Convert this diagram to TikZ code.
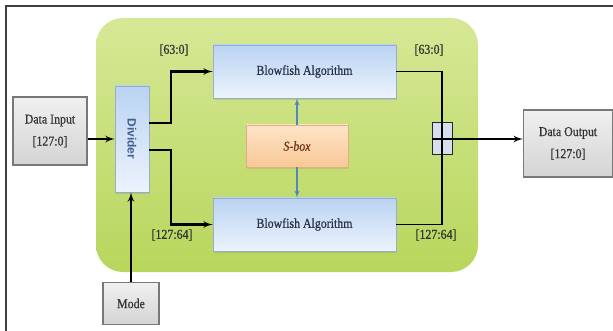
\documentclass[tikz,border=0pt]{standalone}
\usepackage{fontspec}
\setmainfont{Liberation Serif}[FakeStretch=0.88,FakeBold=0.6]
\setsansfont{Liberation Sans}
\usepackage{tikz}
\usetikzlibrary{arrows}
\usetikzlibrary{shapes}
\usetikzlibrary{shadows}

\definecolor{panelhi}{RGB}{214,232,150}
\definecolor{panello}{RGB}{184,214,92}
\definecolor{bluehi}{RGB}{186,211,242}
\definecolor{bluelo}{RGB}{236,243,252}
\definecolor{blueedge}{RGB}{150,175,205}
\definecolor{orangehi}{RGB}{253,228,200}
\definecolor{orangelo}{RGB}{249,200,150}
\definecolor{orangeedge}{RGB}{225,175,125}
\definecolor{grayhi}{RGB}{240,240,240}
\definecolor{graylo}{RGB}{212,212,212}
\definecolor{grayedge}{RGB}{120,120,120}
\definecolor{linkblue}{RGB}{85,135,180}
\definecolor{boxtext}{RGB}{40,48,75}
\definecolor{sboxtext}{RGB}{115,50,30}
\definecolor{divtext}{RGB}{65,95,145}
\definecolor{mergefill}{RGB}{215,222,238}

\begin{document}
\begin{tikzpicture}[x=1pt,y=-1pt,
  txt/.style={font=\fontsize{13.5}{22}\selectfont,text=black!80},
  graybox/.style={txt,draw=grayedge,line width=1.2pt,top color=grayhi,bottom color=graylo,align=center,inner sep=0pt},
  bluebox/.style={txt,draw=blueedge,line width=.6pt,top color=bluehi,bottom color=bluelo,text=boxtext,inner sep=0pt,
    drop shadow={shadow xshift=1pt,shadow yshift=-2pt,opacity=.25}},
  sboxbox/.style={txt,draw=orangeedge,line width=.6pt,top color=orangehi,bottom color=orangelo,text=sboxtext,inner sep=0pt,
    font=\fontsize{13.5}{15}\selectfont\itshape,drop shadow={shadow xshift=1pt,shadow yshift=-2pt,opacity=.2}},
  lbl/.style={txt,text=black!80},
  arr/.style={line width=2.2pt,-latex'},
  wire/.style={line width=1.6pt},
  link/.style={draw=linkblue,line width=1.4pt,-latex'}]
 \useasboundingbox (0,0) rectangle (613,331);
 \fill[white] (0,0) rectangle (613,331);
 \draw[line width=1.6pt,black!75] (6,345) -- (6,6) -- (625,6);

 % green core
 \node[rounded corners=27pt,top color=panelhi,bottom color=panello,minimum width=382pt,minimum height=254pt,inner sep=0pt] (core) at (287,145) {};

 % boxes
 \node[graybox,minimum width=74pt,minimum height=68pt] (din) at (50,131) {Data Input\\{}[127:0]};
 \node[graybox,minimum width=89pt,minimum height=67pt] (dout) at (568,143.5) {Data Output\\{}[127:0]};
 \node[graybox,minimum width=56pt,minimum height=42pt] (mode) at (131,303.5) {Mode};
 \node[bluebox,minimum width=106pt,minimum height=34pt,rotate=-90,font=\sffamily\bfseries\fontsize{12}{14}\selectfont,text=divtext] (div) at (132,139) {Divider};
 \node[bluebox,minimum width=183pt,minimum height=53pt] (bfa) at (304.5,71.5) {Blowfish Algorithm};
 \node[bluebox,minimum width=183pt,minimum height=53pt] (bfb) at (304.5,224.5) {Blowfish Algorithm};
 \node[sboxbox,minimum width=102pt,minimum height=42pt] (sbox) at (297,146) {S-box};
 \node[draw=black!85,line width=1pt,fill=mergefill,minimum width=20pt,minimum height=32pt,inner sep=0pt] (merge) at (442,139) {};

 % labels
 \node[lbl] (lA) at (174,50) {[63:0]};
 \node[lbl] (lB) at (172,235) {[127:64]};
 \node[lbl] (lC) at (429,50) {[63:0]};
 \node[lbl] (lD) at (436,235) {[127:64]};

 % connections (div is turned: its north faces right, its south faces left)
 \draw[arr] (din.east |- div.center) -- (div.south);
 \draw[arr] (mode.north) -- (mode.north |- div.east);
 \draw[arr] ([yshift=16pt]div.north) -- ++(22,0) |- (bfa.west);
 \draw[arr] ([yshift=-11pt]div.north) -- ++(22,0) |- (bfb.west);
 \draw[wire] (bfa.east) -| (merge.center) |- (bfb.east);
 \draw[arr] (merge.west) -- (dout.west |- merge.west);
 \draw[link] (sbox.north) -- (sbox.north |- bfa.south);
 \draw[link] (sbox.south) -- (sbox.south |- bfb.north);
\end{tikzpicture}
\end{document}
